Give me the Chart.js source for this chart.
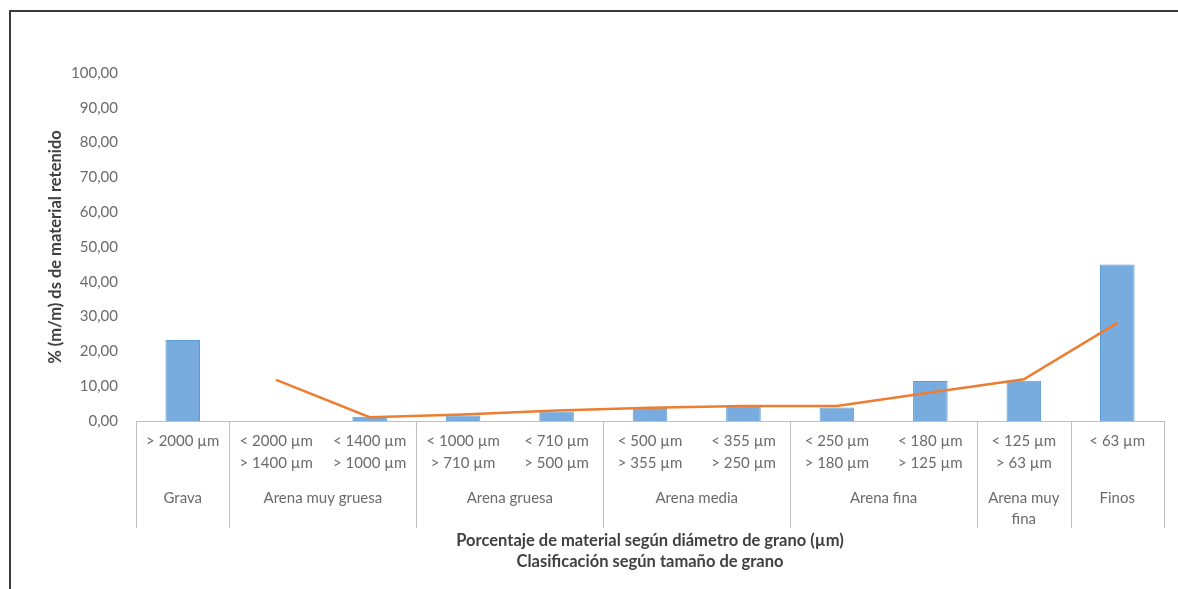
<!DOCTYPE html>
<html>
<head>
<meta charset="utf-8">
<script src="https://cdn.jsdelivr.net/npm/chart.js@4.4.1/dist/chart.umd.min.js"></script>
<style>
  html, body { margin: 0; padding: 0; background: #ffffff; }
  #wrap { position: relative; width: 1178px; height: 589px; overflow: hidden; }
  #frame { position: absolute; left: 9px; top: 10px; width: 1200px; height: 600px;
           border-left: 2px solid #3c3c3c; border-top: 2px solid #3c3c3c; pointer-events: none; }
  canvas { position: absolute; left: 0; top: 0; }
</style>
</head>
<body>
<div id="wrap">
  <canvas id="chart" width="1178" height="589"></canvas>
  <div id="frame"></div>
</div>
<script>
// Grain-size fractions (first row of the category axis)
const sizeRanges = [
  ['> 2000 µm'],
  ['< 2000 µm', '> 1400 µm'],
  ['< 1400 µm', '> 1000 µm'],
  ['< 1000 µm', '> 710 µm'],
  ['< 710 µm', '> 500 µm'],
  ['< 500 µm', '> 355 µm'],
  ['< 355 µm', '> 250 µm'],
  ['< 250 µm', '> 180 µm'],
  ['< 180 µm', '> 125 µm'],
  ['< 125 µm', '> 63 µm'],
  ['< 63 µm']
];

// % (m/m) of retained material per fraction
const retained = [23.3, 0.0, 1.2, 1.6, 2.7, 3.8, 4.1, 3.9, 11.5, 11.6, 45.0];

// Trend line (2-period moving average)
const trend = [null, 11.8, 1.1, 1.9, 3.0, 3.8, 4.3, 4.3, 8.2, 12.0, 28.2];

// Grain-size classes (second row) and how many fractions each spans
const classNames = [['Grava'], ['Arena muy gruesa'], ['Arena gruesa'], ['Arena media'],
                    ['Arena fina'], ['Arena muy', 'fina'], ['Finos']];
const classSizes = [1, 2, 2, 2, 2, 1, 1];

const yMin = 0, yMax = 100, yStep = 10;

// class centres and borders in category units
const classCenters = [];
const classBorders = [-0.5];
let start = 0;
classSizes.forEach(n => {
  classCenters.push(start + (n - 1) / 2);
  start += n;
  classBorders.push(start - 0.5);
});

const FONT = 'Lato, "Open Sans", "Liberation Sans", sans-serif';
const TICK_COLOR = '#6b6b6b';
const LINE_COLOR = '#bfbfbf';

// vertical separators of the two-level category table
const classSeparators = {
  id: 'classSeparators',
  afterDraw(chart) {
    const s = chart.scales.x2;
    const top = chart.chartArea.bottom;
    const bottom = s.top + 50;
    const ctx = chart.ctx;
    ctx.save();
    ctx.strokeStyle = LINE_COLOR;
    ctx.lineWidth = 1;
    classBorders.forEach(b => {
      const x = Math.round(s.getPixelForValue(b)) + 0.5;
      ctx.beginPath();
      ctx.moveTo(x, top);
      ctx.lineTo(x, bottom);
      ctx.stroke();
    });
    ctx.restore();
  }
};

new Chart(document.getElementById('chart'), {
  data: {
    labels: sizeRanges,
    datasets: [
      {
        type: 'line',
        data: trend,
        borderColor: '#ed7d31',
        borderWidth: 2.5,
        pointRadius: 0,
        tension: 0,
        order: 0
      },
      {
        type: 'bar',
        data: retained,
        backgroundColor: '#78acdf',
        borderColor: '#5b9bd5',
        borderWidth: 1,
        barPercentage: 0.37,
        categoryPercentage: 1,
        order: 1
      }
    ]
  },
  options: {
    responsive: false,
    animation: false,
    layout: { padding: { left: 10, top: 73, right: 14, bottom: 0 } },
    plugins: { legend: { display: false }, tooltip: { enabled: false } },
    scales: {
      x: {
        type: 'category',
        position: 'bottom',
        weight: 0,
        grid: { display: false, drawTicks: false },
        border: { display: true, color: LINE_COLOR, width: 1 },
        ticks: {
          autoSkip: false, maxRotation: 0, minRotation: 0, padding: 9,
          color: TICK_COLOR, font: { family: FONT, size: 15, lineHeight: '22px' }
        },
        afterFit(s) { s.height = 57; }
      },
      x2: {
        type: 'linear',
        position: 'bottom',
        weight: 1,
        min: -0.5,
        max: 10.5,
        grid: { display: false, drawTicks: false },
        border: { display: false },
        afterBuildTicks(s) { s.ticks = classCenters.map(v => ({ value: v })); },
        ticks: {
          autoSkip: false, maxRotation: 0, minRotation: 0, padding: 9.5,
          color: TICK_COLOR, font: { family: FONT, size: 15, lineHeight: '21px' },
          callback: (v, i) => classNames[i]
        },
        title: {
          display: true,
          text: ['Porcentaje de material según diámetro de grano (µm)', 'Clasificación según tamaño de grano'],
          color: '#404040',
          font: { family: FONT, size: 16.5, weight: 'bold', lineHeight: '21px' },
          padding: { top: 0, bottom: 16.5 }
        },
        afterFit(s) { s.height = 111; }
      },
      y: {
        min: yMin,
        max: yMax,
        grid: { display: false, drawTicks: false },
        border: { display: false },
        ticks: {
          stepSize: yStep, padding: 18, color: TICK_COLOR,
          font: { family: FONT, size: 15 },
          callback: v => v.toFixed(2).replace('.', ',')
        },
        title: {
          display: true,
          text: '% (m/m) ds de material retenido',
          color: '#404040',
          font: { family: FONT, size: 16.5, weight: 'bold', lineHeight: '19px' },
          padding: { top: 36, bottom: 0 }
        },
        afterFit(s) { s.width = 126; }
      }
    }
  },
  plugins: [classSeparators]
});
</script>
</body>
</html>
